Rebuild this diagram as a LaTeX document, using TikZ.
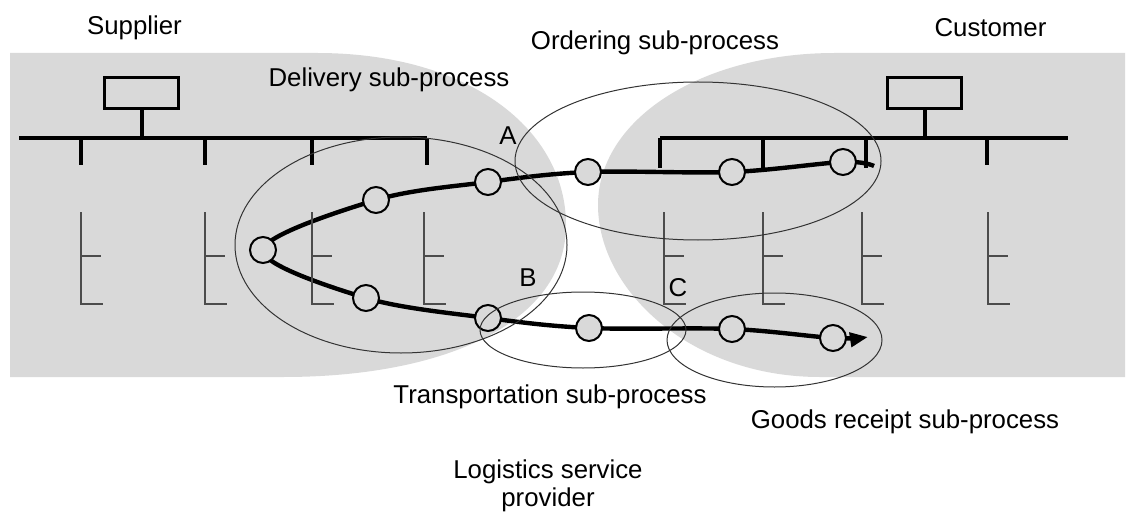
\documentclass[tikz,border=0pt]{standalone}
\usepackage{fontspec}
\setmainfont{Liberation Sans}
\usetikzlibrary{arrows.meta,backgrounds}
\tikzset{
  bus/.style={line width=2pt},
  rung/.style={draw=black!70,line width=0.7pt},
  stn/.style={circle,draw,line width=1pt,fill=black!15,minimum size=13pt,inner sep=0pt},
  zone/.style={draw=black!80,line width=0.5pt},
  lbl/.style={font=\fontsize{12.9}{14}\selectfont,inner sep=0pt}
}

\begin{document}
\begin{tikzpicture}[x=0.5pt,y=-0.5pt]
        \useasboundingbox (0,0) rectangle (1133,513);
        \coordinate (sl) at (19,138);
        \coordinate (sr) at (427,138);
        \coordinate (cl) at (660,138);
        \coordinate (cr) at (1068,138);
        \draw[bus] (sl) -- (sr);
        \draw[bus] (cl) -- (cr);
        \node[draw,line width=1.8pt,minimum width=37pt,minimum height=15.5pt,inner sep=0pt] (sbox) at (141.5,93) {};
        \node[draw,line width=1.8pt,minimum width=37pt,minimum height=15.5pt,inner sep=0pt] (cbox) at (924.5,93) {};
        \draw[bus] (sbox) -- (sbox |- sl);
        \draw[bus] (cbox) -- (cbox |- cr);
        \foreach \x in {81,205,312,427,987}{
            \draw[bus] (\x,138) -- (\x,165);
        }
        \foreach \x in {660,763,866}{
            \draw[bus] (\x,138) -- (\x,168);
        }
        \foreach \x in {81,205,312,424,664,763,862,988}{
            \draw[rung] (\x,212) -- (\x,304) -- +(22,0) (\x,256) -- +(20,0);
        }
        \coordinate (fs) at (874,166);
        \coordinate (ft) at (868,337);
        \node[stn] (u1) at (843,162) {};
        \node[stn] (u2) at (732,172) {};
        \node[stn] (u3) at (588,172) {};
        \node[stn] (u4) at (488,182) {};
        \node[stn] (u5) at (376,200) {};
        \node[stn] (v0) at (263,250) {};
        \node[stn] (d1) at (366,298) {};
        \node[stn] (d2) at (488,318) {};
        \node[stn] (d3) at (589,328) {};
        \node[stn] (d4) at (732,329) {};
        \node[stn] (d5) at (833,338) {};
        \begin{scope}[on background layer]
            \fill[black!15] (10,53) -- (317,53) .. controls (470,53) and (566,130) .. (566,225) .. controls (566,320) and (450,377) .. (283,377) -- (10,377) -- cycle;
            \fill[black!15] (1125,53) -- (835,53) .. controls (700,53) and (598,120) .. (598,205) .. controls (598,290) and (690,377) .. (820,377) -- (1125,377) -- cycle;
            \draw[line width=2.2pt,-{Triangle[length=9pt,width=7pt]}] plot[smooth,tension=0.55] coordinates {(fs) (u1) (u2) (u3) (u4) (u5) (v0) (d1) (d2) (d3) (d4) (d5) (ft)};
        \end{scope}
        \draw[zone] (401,245) ellipse [x radius=83pt,y radius=54pt];
        \draw[zone] (698,161) ellipse [x radius=91.5pt,y radius=39.5pt];
        \draw[zone] (583,330) ellipse [x radius=51.5pt,y radius=19pt];
        \draw[zone] (774.5,340) ellipse [x radius=53.75pt,y radius=23.5pt];
        \node[lbl] (sup) at (134.5,28) {Supplier};
        \node[lbl] (cus) at (990.5,28) {Customer};
        \node[lbl] (ord) at (655,43) {Ordering sub-process};
        \node[lbl] (del) at (389,80) {Delivery sub-process};
        \node[lbl] (tra) at (550,397) {Transportation sub-process};
        \node[lbl] (goo) at (905,422) {Goods receipt sub-process};
        \node[lbl,align=center] (lsp) at (548,486) {Logistics service\\provider};
        \node[lbl] (la) at (508,136) {A};
        \node[lbl] (lb) at (528,278) {B};
        \node[lbl] (lc) at (678,288) {C};
    \end{tikzpicture}
\end{document}
